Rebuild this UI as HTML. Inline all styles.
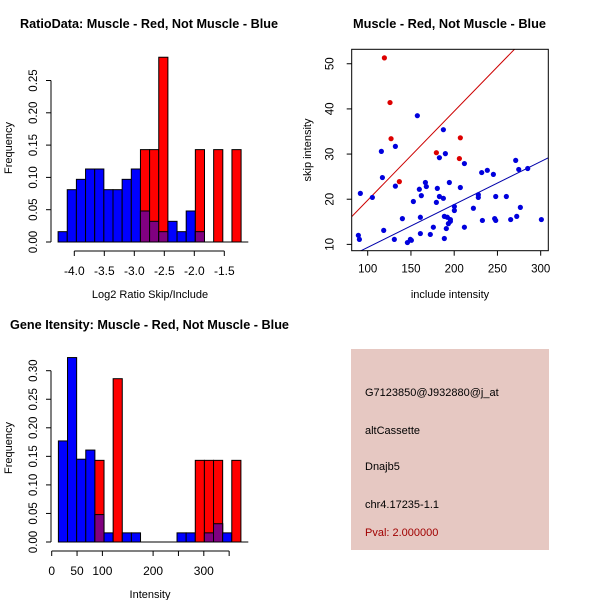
<!DOCTYPE html>
<html><head><meta charset="utf-8"><style>
html,body{margin:0;padding:0;background:#fff;}
svg{display:block;font-family:"Liberation Sans",sans-serif;}
</style></head><body>
<svg id="c" width="600" height="600" viewBox="0 0 600 600" xmlns="http://www.w3.org/2000/svg">
<rect x="0" y="0" width="600" height="600" fill="#fff"/>
<text x="149" y="28" text-anchor="middle" font-size="12.5" font-weight="bold" textLength="258" lengthAdjust="spacingAndGlyphs">RatioData: Muscle - Red, Not Muscle - Blue</text>
<text x="449.5" y="28" text-anchor="middle" font-size="12.5" font-weight="bold" textLength="193" lengthAdjust="spacingAndGlyphs">Muscle - Red, Not Muscle - Blue</text>
<text x="149.5" y="329" text-anchor="middle" font-size="12.5" font-weight="bold" textLength="279" lengthAdjust="spacingAndGlyphs">Gene Itensity: Muscle - Red, Not Muscle - Blue</text>
<g>
<rect x="351" y="349" width="198" height="201" fill="#e6c8c2"/>
<text x="365" y="396" font-size="11">G7123850@J932880@j_at</text>
<text x="365" y="434" font-size="11">altCassette</text>
<text x="365" y="470" font-size="11">Dnajb5</text>
<text x="365" y="508" font-size="11">chr4.17235-1.1</text>
<text x="365" y="536" font-size="11" fill="#a00000">Pval: 2.000000</text>
</g>
</svg>
<script>
// ---- Ratio histogram data ----
const ratioBinStart = -4.27;
const ratioBinWidth = 0.1525;
const ratioBlue = [0.016,0.081,0.097,0.113,0.113,0.081,0.081,0.097,0.113,0.048,0.032,0.016,0.032,0.016,0.048,0.016,0,0,0,0];
const ratioRed  = [0,0,0,0,0,0,0,0,0,0.143,0.143,0.286,0,0,0,0.143,0,0.143,0,0.143];
const ratioXTicks = [-4.0,-3.5,-3.0,-2.5,-2.0,-1.5];
const ratioXLabels = ["-4.0","-3.5","-3.0","-2.5","-2.0","-1.5"];
const ratioYTicks = [0,0.05,0.10,0.15,0.20,0.25];
const ratioYLabels = ["0.00","0.05","0.10","0.15","0.20","0.25"];
// ---- Intensity histogram data ----
const intBinStart = 13.2;
const intBinWidth = 18.0;
const intBlue = [0.177,0.323,0.145,0.161,0.048,0.016,0,0.016,0.016,0,0,0,0,0.016,0.016,0,0.016,0.032,0.016,0];
const intRed  = [0,0,0,0,0.143,0,0.286,0,0,0,0,0,0,0,0,0.143,0.143,0.143,0,0.143];
const intXTicks = [0,50,100,200,250,300,350];
const intXLabels = ["0","50","100","200","","300",""];
const intYTicks = [0,0.05,0.10,0.15,0.20,0.25,0.30];
const intYLabels = ["0.00","0.05","0.10","0.15","0.20","0.25","0.30"];
// ---- Scatter data ----
const redX = [119.3,125.8,127,136.6,179.4,207.1,206];
const redY = [51.3,41.4,33.4,23.9,30.3,33.6,29];
const blueX = [89.2,90.4,91.5,105.4,115.8,117.0,118.5,130.8,132.0,132.0,140.1,145.9,149.3,150.5,152.8,157.4,159.7,160.9,162.0,160.9,166.7,167.8,172.4,175.9,179.4,180.5,182.9,182.9,187.5,187.5,188.6,189.8,188.6,192.1,190.9,193.3,194.4,195.6,195.6,200.2,200.2,207.1,211.8,211.8,222.2,227.9,227.9,231.8,232.6,238.3,245.3,248.0,246.8,248.0,260.3,265.3,271.1,272.3,274.6,276.5,285.0,300.8];
const blueY = [12.0,11.1,21.3,20.4,30.6,24.8,13.1,11.1,31.7,22.9,15.7,10.4,11.1,10.9,19.5,38.5,22.2,16.0,20.8,12.4,23.7,22.8,12.2,13.8,19.3,22.4,29.2,20.6,20.2,35.4,11.3,30.1,16.2,16.0,13.5,14.6,23.7,15.1,15.5,18.4,17.5,22.6,27.9,13.8,18.0,21.0,20.4,25.9,15.3,26.4,25.5,20.6,15.7,15.3,20.6,15.5,28.6,16.2,26.6,18.2,26.8,15.5];
const redSlope = 0.197, redIntercept = 0.08;
const blueSlope = 0.095, blueIntercept = -0.17;
const scXTicks = [100,150,200,250,300];
const scYTicks = [10,20,30,40,50];

const NS = "http://www.w3.org/2000/svg";
const svg = document.getElementById('c');
function mk(tag, attrs, parent){
  const e = document.createElementNS(NS, tag);
  for (const k in attrs) e.setAttribute(k, attrs[k]);
  (parent||svg).appendChild(e);
  return e;
}

function histogram(cfg){
  const g = mk('g', {});
  
  
  const xs = v => cfg.x0 + (v - cfg.xv0) * cfg.xk;
  const ys = v => cfg.yBase - v * cfg.yk;
  for (let i = 0; i < cfg.blue.length; i++) {
    const a = xs(cfg.start + i*cfg.width), b = xs(cfg.start + (i+1)*cfg.width);
    const bl = cfg.blue[i], rd = cfg.red[i];
    if (bl > 0) {
      const r = mk('rect', {x:a, y:ys(bl), width:b-a, height:ys(0)-ys(bl), fill:'#0000ff', stroke:'#000', 'stroke-width':1}, g);
      
      
    }
    if (rd > 0) {
      const r = mk('rect', {x:a, y:ys(rd), width:b-a, height:ys(0)-ys(rd), fill:'#ff0000', stroke:'#000', 'stroke-width':1}, g);
      
      
      const m = Math.min(bl, rd);
      if (m > 0) {
        const p = mk('rect', {x:a, y:ys(m), width:b-a, height:ys(0)-ys(m), fill:'#800080', stroke:'#000', 'stroke-width':1}, g);
        
        
      }
    }
  }
  mk('line', {x1:cfg.baseL, x2:cfg.baseR, y1:ys(0), y2:ys(0), stroke:'#000'}, g);
  const xa = mk('g', {}, g);
  
  
  const xt = cfg.xTicks;
  mk('line', {x1:xs(xt[0]), x2:xs(xt[xt.length-1]), y1:cfg.axY, y2:cfg.axY, stroke:'#000'}, xa);
  xt.forEach((v,i) => {
    mk('line', {x1:xs(v), x2:xs(v), y1:cfg.axY, y2:cfg.axY+5, stroke:'#000'}, xa);
    const t = mk('text', {x:xs(v), y:cfg.axY+24, 'text-anchor':'middle', 'font-size':12}, xa);
    t.textContent = cfg.xLabels[i];
  });
  const xl = mk('text', {x:cfg.xTitleX, y:cfg.axY+47, 'text-anchor':'middle', 'font-size':11}, g);
  
  
  xl.textContent = cfg.xTitle;
  const ya = mk('g', {}, g);
  
  
  const yt = cfg.yTicks;
  mk('line', {x1:51, x2:51, y1:ys(yt[0]), y2:ys(yt[yt.length-1]), stroke:'#000'}, ya);
  yt.forEach((v,i) => {
    mk('line', {x1:46, x2:51, y1:ys(v), y2:ys(v), stroke:'#000'}, ya);
    const t = mk('text', {x:37, y:ys(v), 'text-anchor':'middle', 'font-size':11.5, transform:`rotate(-90 37 ${ys(v)})`}, ya);
    t.textContent = cfg.yLabels[i];
  });
  const yl = mk('text', {x:12, y:cfg.yTitleY, 'text-anchor':'middle', 'font-size':11, transform:`rotate(-90 12 ${cfg.yTitleY})`}, g);
  
  
  yl.textContent = 'Frequency';
}

histogram({name:'ratio-histogram', blue:ratioBlue, red:ratioRed, start:ratioBinStart, width:ratioBinWidth,
  x0:74.3, xv0:-4.0, xk:60, yBase:242, yk:646, baseL:58.3, baseR:248.3, axY:251,
  xTicks:ratioXTicks, xLabels:ratioXLabels, yTicks:ratioYTicks, yLabels:ratioYLabels,
  xTitle:'Log2 Ratio Skip/Include', xTitleX:150, yTitleY:148});
histogram({name:'intensity-histogram', blue:intBlue, red:intRed, start:intBinStart, width:intBinWidth,
  x0:51.7, xv0:0, xk:0.507, yBase:542, yk:571, baseL:58.3, baseR:248.3, axY:551,
  xTicks:intXTicks, xLabels:intXLabels, yTicks:intYTicks, yLabels:intYLabels,
  xTitle:'Intensity', xTitleX:150, yTitleY:448});

(function(){
  const L=351.7, R=548.3, T=49.3, B=250.7;
  const xmin=81.5, xmax=308.8, ymin=8.6, ymax=53.2;
  const xs = v => L + (v-xmin)/(xmax-xmin)*(R-L);
  const ys = v => B - (v-ymin)/(ymax-ymin)*(B-T);
  const g = mk('g', {});
  
  
  const defs = mk('defs', {}, g);
  const cp = mk('clipPath', {id:'clipS'}, defs);
  mk('rect', {x:L, y:T, width:R-L, height:B-T}, cp);
  const lines = mk('g', {'clip-path':'url(#clipS)'}, g);
  const rl = mk('line', {x1:xs(xmin), y1:ys(redSlope*xmin+redIntercept), x2:xs(xmax), y2:ys(redSlope*xmax+redIntercept), stroke:'#cc0000', 'stroke-width':1}, lines);
  
  
  const bl = mk('line', {x1:xs(xmin), y1:ys(blueSlope*xmin+blueIntercept), x2:xs(xmax), y2:ys(blueSlope*xmax+blueIntercept), stroke:'#0000aa', 'stroke-width':1}, lines);
  
  
  blueX.forEach((v,i) => {
    const c = mk('circle', {cx:xs(v), cy:ys(blueY[i]), r:2.6, fill:'#0000dd'}, g);
    
    
  });
  redX.forEach((v,i) => {
    const c = mk('circle', {cx:xs(v), cy:ys(redY[i]), r:2.6, fill:'#dd0000'}, g);
    
    
  });
  mk('rect', {x:L, y:T, width:R-L, height:B-T, fill:'none', stroke:'#000'}, g);
  const xa = mk('g', {}, g);
  
  
  scXTicks.forEach(v => {
    mk('line', {x1:xs(v), x2:xs(v), y1:B, y2:B+5, stroke:'#000'}, xa);
    const t = mk('text', {x:xs(v), y:B+22, 'text-anchor':'middle', 'font-size':11.5}, xa);
    t.textContent = v;
  });
  const ya = mk('g', {}, g);
  
  
  scYTicks.forEach(v => {
    mk('line', {x1:L-5, x2:L, y1:ys(v), y2:ys(v), stroke:'#000'}, ya);
    const t = mk('text', {x:L-18, y:ys(v), 'text-anchor':'middle', 'font-size':11.5, transform:`rotate(-90 ${L-18} ${ys(v)})`}, ya);
    t.textContent = v;
  });
  const xl = mk('text', {x:450, y:298, 'text-anchor':'middle', 'font-size':11}, g);
  
  
  xl.textContent = 'include intensity';
  const yl = mk('text', {x:311, y:150, 'text-anchor':'middle', 'font-size':11, transform:'rotate(-90 311 150)'}, g);
  
  
  yl.textContent = 'skip intensity';
})();
</script>
</body></html>
